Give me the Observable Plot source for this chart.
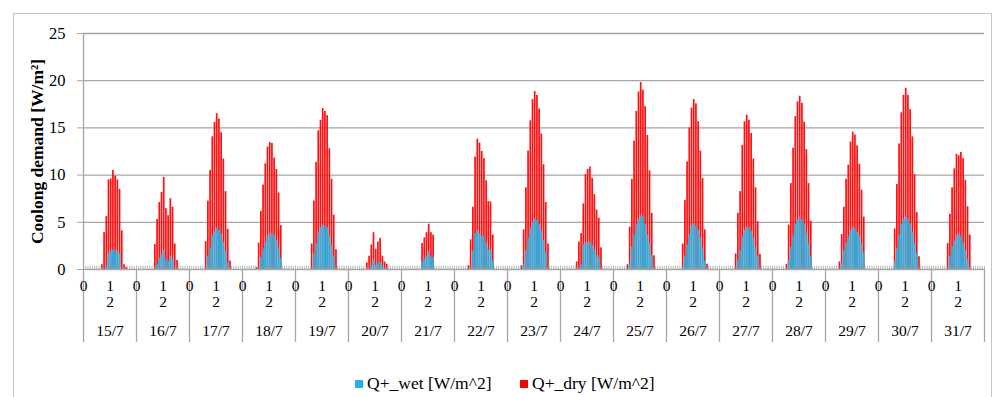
<!DOCTYPE html>
<html>
<head>
<meta charset="utf-8">
<script src="https://cdn.jsdelivr.net/npm/d3@7"></script>
<script src="https://cdn.jsdelivr.net/npm/@observablehq/plot@0.6"></script>
<style>
  body { margin: 0; background: #fff; }
  #wrap { position: relative; width: 993px; height: 397px; overflow: hidden; font-family: "Liberation Serif", "Times New Roman", serif; }
  #frame { position: absolute; left: 13px; top: 13px; width: 979px; height: 420px; border: 1px solid #c4c4c4; box-sizing: border-box; }
  #chart { position: absolute; left: 0; top: 0; }
  .leg { position: absolute; top: 373px; font-size: 17.5px; color: #000; display: flex; align-items: center; white-space: nowrap; }
  .sw { display: inline-block; width: 8px; height: 8px; margin-right: 4px; }
</style>
</head>
<body>
<div id="wrap">
  <div id="frame"></div>
  <div id="chart"></div>
  <div class="leg" style="left:355px"><span class="sw" style="background:#1eb4ea"></span>Q+_wet [W/m^2]</div>
  <div class="leg" style="left:520px"><span class="sw" style="background:#ff0000"></span>Q+_dry [W/m^2]</div>
</div>
<script>
// ---- data ----
const days = ["15/7","16/7","17/7","18/7","19/7","20/7","21/7","22/7","23/7","24/7","25/7","26/7","27/7","28/7","29/7","30/7","31/7"];
const hoursPerDay = 24;
// first hour with non-zero demand for each day
const firstHour = [8, 8, 7, 6, 7, 8, 9, 6, 6, 7, 6, 7, 7, 6, 6, 7, 7];
// Q+_dry (red bar height) from firstHour onwards, W/m2
const dryValues = [
  [0.5, 3.9, 5.6, 9.5, 9.6, 10.5, 9.9, 9.5, 8.5, 4.1, 0.5, 0.2],
  [2.65, 5.3, 7.1, 8.15, 9.75, 6.45, 5.7, 7.5, 6.6, 2.7, 0.95],
  [2.95, 7.25, 10.5, 14.05, 15.6, 16.5, 15.95, 14.5, 11.7, 8.25, 4.25, 0.9],
  [0.2, 2.8, 6.15, 8.95, 11.2, 12.95, 13.45, 13.35, 11.8, 10.6, 8.1, 4.65],
  [2.7, 7.25, 11.35, 14.7, 15.8, 17.05, 16.75, 16.3, 12.8, 9.55, 5.75, 2.1],
  [0.7, 1.4, 2.6, 3.9, 2.15, 2.9, 3.3, 1.4, 0.8, 0.55],
  [2.75, 3.35, 3.9, 4.8, 3.9, 3.65],
  [0.4, 3.15, 6.6, 11.9, 13.8, 13.4, 12.5, 11.75, 9.4, 7.2, 7.15, 3.65],
  [0.4, 4.2, 8.65, 12.55, 15.75, 18.0, 18.85, 18.45, 17.0, 14.35, 11.1, 7.1, 2.7],
  [0.8, 2.9, 3.8, 6.95, 10.05, 10.6, 10.85, 9.65, 7.95, 6.3, 5.45, 2.3],
  [0.5, 4.5, 9.55, 13.6, 16.75, 18.8, 19.8, 19.0, 17.25, 14.2, 10.45, 5.95, 1.45],
  [2.7, 7.3, 11.4, 15.0, 17.1, 18.0, 17.55, 15.65, 12.55, 9.65, 4.2, 0.55],
  [1.65, 5.95, 8.25, 13.15, 15.65, 16.35, 15.8, 14.4, 11.7, 8.65, 5.05, 1.6],
  [0.55, 4.7, 9.1, 12.85, 16.2, 17.75, 18.35, 17.6, 15.6, 12.7, 9.1, 5.1],
  [0.8, 3.7, 6.6, 9.55, 11.05, 13.5, 14.55, 14.25, 13.1, 11.15, 8.4, 5.55],
  [4.3, 9.0, 13.3, 16.6, 18.45, 19.2, 18.45, 16.95, 14.05, 10.05, 6.05, 1.35],
  [2.75, 5.85, 8.65, 10.65, 12.2, 12.05, 12.4, 11.75, 9.45, 6.65, 3.65]
];
// Q+_wet (cyan bar height), same hours
const wetValues = [
  [0, 0, 0.4, 1.7, 1.9, 2.1, 2.0, 1.9, 1.7, 0, 0, 0],
  [0, 0.55, 1.2, 1.55, 2.05, 1.05, 0.85, 1.4, 1.1, 0, 0],
  [0, 1.35, 2.3, 3.55, 4.05, 4.35, 4.15, 3.75, 2.85, 1.95, 0.65, 0],
  [0, 0, 1.25, 2.15, 2.85, 3.45, 3.7, 3.8, 3.6, 3.05, 2.15, 1.2],
  [0, 1.6, 2.75, 3.95, 4.45, 4.65, 4.6, 4.45, 3.55, 2.5, 1.4, 0],
  [0, 0, 0.4, 1.0, 0.45, 0.65, 0.75, 0.35, 0, 0],
  [0.85, 1.1, 1.35, 1.85, 1.3, 1.25],
  [0, 0, 1.95, 3.8, 4.1, 3.8, 3.55, 3.45, 2.8, 2.05, 2.05, 0.9],
  [0, 0.5, 1.95, 3.3, 4.25, 5.0, 5.3, 5.2, 4.8, 4.1, 3.1, 1.85, 0],
  [0, 0, 0.5, 2.6, 2.75, 2.85, 2.9, 2.55, 2.05, 1.5, 1.25, 0],
  [0, 0.65, 2.35, 3.65, 4.7, 5.35, 5.7, 5.6, 4.8, 3.65, 2.8, 1.5, 0],
  [0.3, 1.4, 2.6, 3.65, 4.6, 4.85, 4.65, 4.15, 3.3, 2.15, 0.9, 0],
  [0, 1.0, 2.0, 3.4, 4.15, 4.45, 4.4, 4.05, 3.3, 2.35, 1.4, 0],
  [0, 0.95, 2.35, 3.55, 4.7, 5.2, 5.55, 5.3, 4.85, 3.8, 2.7, 1.35],
  [0, 0.65, 1.95, 2.75, 3.45, 4.1, 4.4, 4.3, 3.9, 3.55, 2.7, 1.75],
  [0.75, 2.25, 3.65, 4.75, 5.3, 5.6, 5.4, 4.85, 3.9, 2.8, 1.7, 0],
  [0, 1.35, 2.4, 3.0, 3.55, 3.65, 3.55, 2.8, 2.0, 1.05, 0]
];
const yTicks = [0, 5, 10, 15, 20, 25];
// hour tick labels: "0" and "12" (the latter wrapped onto two lines as in the reference)
const hourTickLabels = [{hour: 0, line: 0, label: "0"}, {hour: 12, line: 0, label: "1"}, {hour: 12, line: 1, label: "2"}];
const yTitle = "Coolong demand [W/m²]";

// ---- build table ----
const rows = [];
days.forEach((day, d) => {
  dryValues[d].forEach((v, k) => {
    const i = d * hoursPerDay + firstHour[d] + k;
    rows.push({i, day, dry: v, wet: wetValues[d][k]});
  });
});
const nHours = days.length * hoursPerDay;
const hourBounds = d3.range(0, nHours + 1);
const dayBounds = d3.range(0, days.length + 1).map(d => d * hoursPerDay);
const hourLabels = days.flatMap((day, d) => hourTickLabels.map(h => ({x: d * hoursPerDay + h.hour, line: h.line, t: h.label})));
const dayLabels = days.map((day, d) => ({x: d * hoursPerDay + hoursPerDay / 2, t: day}));

const grey = "#a6a6a6";
const chart = Plot.plot({
  width: 993,
  height: 352,
  marginLeft: 83,
  marginRight: 9,
  marginTop: 33,
  marginBottom: 83,
  style: {fontFamily: "'Liberation Serif', 'Times New Roman', serif", background: "transparent", color: "#000"},
  x: {type: "linear", domain: [0, nHours], axis: null},
  y: {domain: [0, 25], axis: null},
  marks: [
    Plot.ruleY(yTicks.filter(t => t > 0), {stroke: grey, strokeWidth: 1.3}),
    Plot.rect(rows, {x1: "i", x2: d => d.i + 1, y1: 0, y2: "dry", fill: "#ff1010", insetLeft: 0.35, insetRight: 0.15}),
    Plot.rect(rows, {x1: "i", x2: d => d.i + 1, y1: 0, y2: "wet", fill: "#1eb4ea", insetLeft: 0.35, insetRight: 0.15}),
    Plot.ruleX(hourBounds, {y1: 0, y2: 0.35, stroke: "#9a9a9a", strokeWidth: 1, strokeOpacity: 0.7}),
    Plot.ruleY([0], {stroke: grey, strokeWidth: 1.3}),
    Plot.ruleX([0], {y1: 0, y2: 25, stroke: grey, strokeWidth: 1.3}),
    Plot.axisY({ticks: yTicks, tickSize: 6, tickPadding: 12, fontSize: 16.5, stroke: grey, fill: "#000", label: null}),
    Plot.axisX({ticks: dayBounds, tickSize: 73, tickFormat: () => "", stroke: grey, strokeWidth: 1.3, label: null}),
    Plot.text(hourLabels.filter(d => d.line === 0), {x: "x", text: "t", frameAnchor: "bottom", lineAnchor: "top", dy: 10, fontSize: 15.5, fill: "#000"}),
    Plot.text(hourLabels.filter(d => d.line === 1), {x: "x", text: "t", frameAnchor: "bottom", lineAnchor: "top", dy: 26, fontSize: 15.5, fill: "#000"}),
    Plot.text(dayLabels, {x: "x", text: "t", frameAnchor: "bottom", lineAnchor: "top", dy: 55, fontSize: 15.5, fill: "#000"}),
    Plot.text([yTitle], {frameAnchor: "left", dx: -46, rotate: -90, textAnchor: "middle", lineAnchor: "middle", fontWeight: "bold", fontSize: 17.5, fill: "#000"})
  ]
});
document.getElementById("chart").appendChild(chart);
</script>
</body>
</html>
